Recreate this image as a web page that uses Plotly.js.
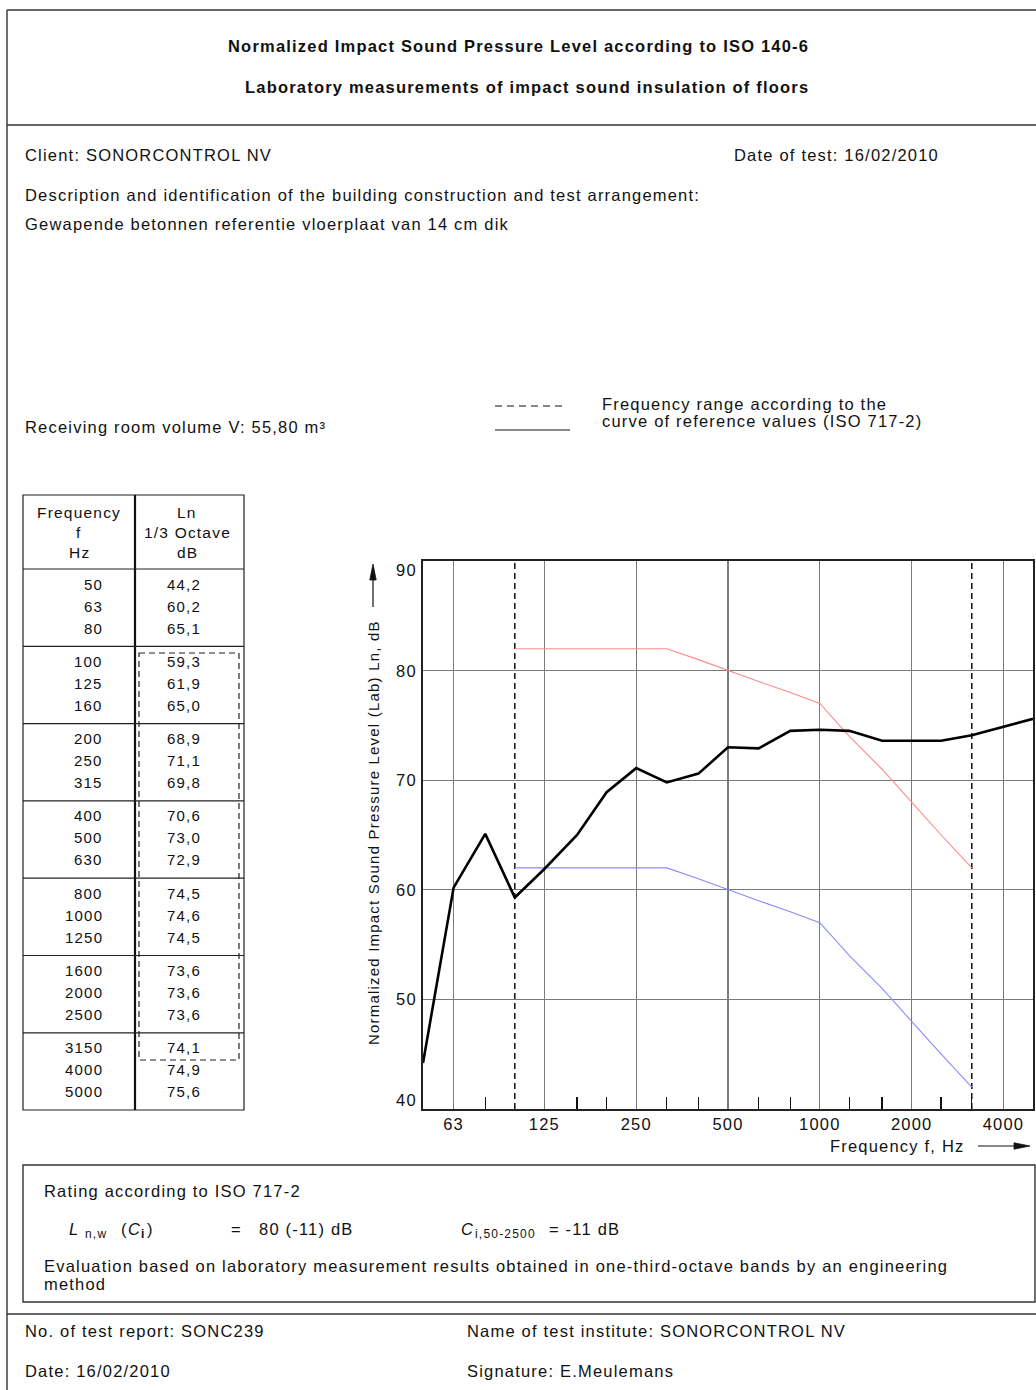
<!DOCTYPE html>
<html><head><meta charset="utf-8">
<script src="https://cdn.plot.ly/plotly-3.0.1.min.js"></script>
<style>
html,body{margin:0;padding:0;background:#fff;}
svg text{letter-spacing:1.2px;}
</style></head>
<body><div id="chart" style="width:1036px;height:1390px;"></div>
<script>
// ---------------- data ----------------
const frequencies = [50,63,80,100,125,160,200,250,315,400,500,630,800,1000,1250,1600,2000,2500,3150,4000,5000];
const lnValues = [44.2,60.2,65.1,59.3,61.9,65.0,68.9,71.1,69.8,70.6,73.0,72.9,74.5,74.6,74.5,73.6,73.6,73.6,74.1,74.9,75.6];
const refFrequencies = [100,125,160,200,250,315,400,500,630,800,1000,1250,1600,2000,2500,3150];
const refValues = [62,62,62,62,62,62,61,60,59,58,57,54,51,48,45,42];
const shiftedRefValues = [82,82,82,82,82,82,81,80,79,78,77,74,71,68,65,62];
const rangeFrequencies = [100,3150];
const yRange = [40,90];
const xTickVals = [63,125,250,500,1000,2000,4000];
const xTickText = ['63','125','250','500','1000','2000','4000'];
const xMinorTicks = [80,160,200,315,400,630,800,1250,1600,2500,3150];
const yTickVals = [40,50,60,70,80,90];

// ---------------- page geometry helpers ----------------
const L = 423, R = 1033, T = 561, B = 1109;
const W = R - L, H = B - T;
const X = px => (px - L) / W;
const Y = py => (B - py) / H;
const FONT = 'Liberation Sans, Arial, Helvetica, sans-serif';
const INK = '#111';

const annotations = [];
const shapes = [];
function txt(x, y, text, o) {
  o = o || {};
  annotations.push({
    xref: 'paper', yref: 'paper', x: X(x), y: Y(y), text: text, showarrow: false,
    xanchor: o.anchor || 'left', yanchor: 'middle', textangle: o.angle || 0,
    align: 'left', borderpad: 0,
    font: {family: FONT, size: o.size || 16.5, color: INK,
           weight: o.bold ? 'bold' : 'normal', style: o.italic ? 'italic' : 'normal'}
  });
}
function line(x0, y0, x1, y1, o) {
  o = o || {};
  shapes.push({type: 'line', xref: 'paper', yref: 'paper', x0: X(x0), y0: Y(y0), x1: X(x1), y1: Y(y1),
    line: {color: o.color || '#333', width: o.width || 1.4, dash: o.dash || 'solid'}});
}
function rect(x0, y0, x1, y1, o) {
  o = o || {};
  shapes.push({type: 'rect', xref: 'paper', yref: 'paper', x0: X(x0), y0: Y(y0), x1: X(x1), y1: Y(y1),
    line: {color: o.color || '#333', width: o.width || 1.4, dash: o.dash || 'solid'}, fillcolor: 'rgba(0,0,0,0)'});
}
function tri(pts) {
  const d = pts.map((p, i) => (i ? 'L' : 'M') + X(p[0]) + ',' + Y(p[1])).join(' ') + ' Z';
  shapes.push({type: 'path', xref: 'paper', yref: 'paper', path: d, fillcolor: INK, line: {color: INK, width: 0.8}});
}

// ---------------- page frame ----------------
line(7, 10, 1036, 10);
line(7, 10, 7, 1390);
line(7, 125, 1036, 125);
line(7, 1314, 1036, 1314);
rect(23, 1165, 1035, 1302);

// header
txt(518, 46, 'Normalized Impact Sound Pressure Level according to ISO 140-6', {anchor: 'center', bold: true});
txt(527, 87, 'Laboratory measurements of impact sound insulation of floors', {anchor: 'center', bold: true});
txt(24, 155, 'Client: SONORCONTROL NV');
txt(733, 155, 'Date of test: 16/02/2010');
txt(24, 195, 'Description and identification of the building construction and test arrangement:');
txt(24, 224, 'Gewapende betonnen referentie vloerplaat van 14 cm dik');
txt(24, 427, 'Receiving room volume V: 55,80 m³');

// legend
line(495, 406, 567, 406, {color: INK, width: 1.2, dash: '7px,5px'});
line(495, 430, 570, 430, {color: INK, width: 1.2});
txt(601, 404, 'Frequency range according to the', {size: 16.5});
txt(601, 421, 'curve of reference values (ISO 717-2)', {size: 16.5});

// ---------------- table ----------------
const tL = 23, tM = 135, tR = 244, tTop = 495, tHead = 569, groupH = 77.3;
rect(tL, tTop, tR, 1110, {color: '#222', width: 1.2});
line(tM, tTop, tM, 1110, {color: '#111', width: 2.2});
for (let g = 0; g < 7; g++) line(tL, tHead + g * groupH, tR, tHead + g * groupH, {color: '#222', width: 1.2});
rect(139, 653, 239, 1060, {color: '#222', width: 1.2, dash: '6px,4px'});
txt(79, 512, 'Frequency', {anchor: 'center', size: 15.5});
txt(79, 532, 'f', {anchor: 'center', size: 15.5});
txt(79, 552, 'Hz', {anchor: 'center', size: 15.5});
txt(187, 512, 'Ln', {anchor: 'center', size: 15.5});
txt(187, 532, '1/3 Octave', {anchor: 'center', size: 15.5});
txt(187, 552, 'dB', {anchor: 'center', size: 15.5});
frequencies.forEach((f, i) => {
  const g = Math.floor(i / 3), r = i % 3;
  const yy = tHead + g * groupH + 15 + r * 22;
  txt(104, yy, String(f), {anchor: 'right', size: 15});
  txt(184, yy, lnValues[i].toFixed(1).replace('.', ','), {anchor: 'center', size: 15});
});

// ---------------- chart labels ----------------
yTickVals.forEach(v => {
  annotations.push({xref: 'paper', yref: 'y', x: X(419), y: v, text: String(v), showarrow: false,
    xanchor: 'right', yanchor: 'middle', yshift: v === 90 ? -9 : (v === 40 ? 9 : 0),
    font: {family: FONT, size: 16.5, color: INK}});
});
txt(373, 833, 'Normalized Impact Sound Pressure Level (Lab) Ln, dB', {anchor: 'center', angle: -90, size: 15});
line(373, 607, 373, 578, {color: INK, width: 1.2});
tri([[369.8, 580], [376.2, 580], [373, 564]]);
txt(829, 1146, 'Frequency f, Hz', {size: 16.5});
line(978, 1146, 1016, 1146, {color: INK, width: 1.2});
tri([[1014, 1142.8], [1014, 1149.2], [1030, 1146]]);

// ---------------- rating box ----------------
txt(43, 1191, 'Rating according to ISO 717-2');
txt(68, 1229, 'L', {italic: true});
txt(84, 1234, 'n,w', {size: 12});
txt(120, 1229, '(');
txt(127, 1229, 'C', {italic: true});
txt(140, 1234, 'i', {size: 12, bold: true});
txt(146, 1229, ')');
txt(230, 1229, '=');
txt(258, 1229, '80 (-11) dB');
txt(460, 1229, 'C', {italic: true});
txt(474, 1234, 'i,50-2500', {size: 12});
txt(548, 1229, '= -11 dB');
txt(43, 1266, 'Evaluation based on laboratory measurement results obtained in one-third-octave bands by an engineering');
txt(43, 1284, 'method');

// footer
txt(24, 1331, 'No. of test report: SONC239');
txt(466, 1331, 'Name of test institute: SONORCONTROL NV');
txt(24, 1371, 'Date: 16/02/2010');
txt(466, 1371, 'Signature: E.Meulemans');

// ---------------- traces ----------------
const traces = [
  {x: [rangeFrequencies[0], rangeFrequencies[0]], y: yRange, mode: 'lines',
   line: {color: '#000', width: 1.4, dash: '6px,4px'}, hoverinfo: 'skip'},
  {x: [rangeFrequencies[1], rangeFrequencies[1]], y: yRange, mode: 'lines',
   line: {color: '#000', width: 1.4, dash: '6px,4px'}, hoverinfo: 'skip'},
  {x: refFrequencies, y: shiftedRefValues, mode: 'lines', line: {color: '#ff8a8a', width: 1.1}, name: 'shifted reference'},
  {x: refFrequencies, y: refValues, mode: 'lines', line: {color: '#8a8aff', width: 1.1}, name: 'reference'},
  {x: frequencies, y: lnValues, mode: 'lines', line: {color: '#000', width: 2.6}, name: 'Ln'}
];

const layout = {
  width: 1036, height: 1390,
  margin: {l: L, r: 1036 - R, t: T, b: 1390 - B, pad: 0},
  paper_bgcolor: '#fff', plot_bgcolor: '#fff',
  showlegend: false,
  font: {family: FONT, size: 16.5, color: INK},
  xaxis: {
    type: 'log', range: [Math.log10(50), Math.log10(5000)],
    tickmode: 'array', tickvals: xTickVals, ticktext: xTickText,
    showgrid: true, gridcolor: '#7a7a7a', gridwidth: 1.3,
    showline: true, mirror: true, linecolor: '#222', linewidth: 1.6,
    ticks: 'inside', ticklen: 0, tickwidth: 0,
    minor: {tickmode: 'array', tickvals: xMinorTicks, ticks: 'inside', ticklen: 12, tickwidth: 1.4, tickcolor: '#111', showgrid: false},
    zeroline: false, tickfont: {family: FONT, size: 16.5, color: INK}, fixedrange: true
  },
  yaxis: {
    range: yRange, tickmode: 'array', tickvals: yTickVals, showticklabels: false,
    showgrid: true, gridcolor: '#7a7a7a', gridwidth: 1.3,
    showline: true, mirror: true, linecolor: '#222', linewidth: 1.6,
    ticks: '', zeroline: false, fixedrange: true
  },
  annotations: annotations,
  shapes: shapes
};

Plotly.newPlot('chart', traces, layout, {staticPlot: true, displayModeBar: false});
</script>
</body></html>
